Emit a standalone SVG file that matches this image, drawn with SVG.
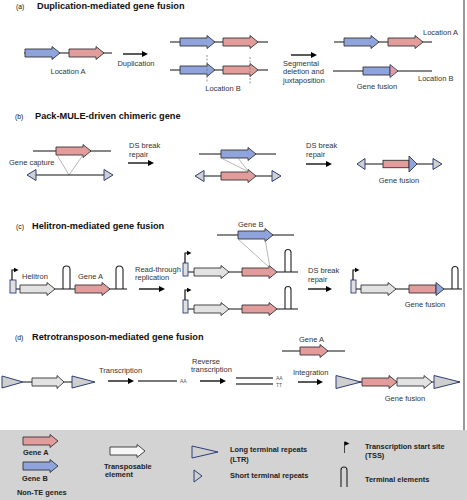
<svg xmlns="http://www.w3.org/2000/svg" xmlns:xlink="http://www.w3.org/1999/xlink" width="467" height="500" viewBox="0 0 467 500">
<style>
.ln{stroke:#111;stroke-width:1.2;fill:none}
.gA{fill:#e39c9c;stroke:#333;stroke-width:0.9}
.gB{fill:#8fa3dc;stroke:#333;stroke-width:0.9}
.te{fill:#e2e2e2;stroke:#333;stroke-width:0.9}
.tw{fill:#f7f7f7;stroke:#333;stroke-width:0.9}
.tri{fill:#cfcfcf;stroke:#2c3e78;stroke-width:1}
.box{fill:#e0e0e0;stroke:#2c3e78;stroke-width:0.9}
.hp{fill:none;stroke:#222;stroke-width:1.1}
.thin{stroke:#888;stroke-width:0.6;fill:none}
.dash{stroke:#777;stroke-width:0.8;stroke-dasharray:2 1.5}
.pa{stroke:#000;stroke-width:1.3;marker-end:url(#ah)}
.rna{stroke:#777;stroke-width:2.2}
text{font-family:"Liberation Sans",Arial,sans-serif;font-size:7.5px;fill:#333}
.ttl{font-weight:bold;font-size:9.2px;fill:#111}
.lb{font-size:6.8px;fill:#111}
.sm{font-size:5px;fill:#555}
.lg{font-weight:bold;font-size:7.4px;fill:#222}
.mid{text-anchor:middle}
</style>
<defs>
<marker id="ah" markerWidth="6" markerHeight="6" refX="1" refY="3" orient="auto" markerUnits="userSpaceOnUse"><path d="M0,0 L6,3 L0,6Z" fill="#000"/></marker>
<path id="arr" d="M0,-4 H27 V-6.5 L35,0 L27,6.5 V4 H0 Z"/>
<path id="body" d="M0,-4 H27 V4 H0 Z"/>
<path id="head" d="M27,-6.5 L35,0 L27,6.5 Z"/>
</defs>

<line x1="464" y1="0" x2="464" y2="430" stroke="#555" stroke-width="1.2"/>

<!-- (a) -->
<g id="titleA"><text class="lb" x="16" y="8.5">(a)</text><text class="ttl" x="37" y="8.5">Duplication-mediated gene fusion</text></g>
<g id="a-locA">
<line class="ln" x1="24" y1="53" x2="112" y2="53"/>
<use href="#arr" class="gB" x="25" y="53"/>
<use href="#arr" class="gA" x="69" y="53"/>
<text class="mid" x="68" y="74">Location A</text>
</g>
<g id="a-dup">
<line class="ln" x1="170" y1="42" x2="268" y2="42"/>
<use href="#arr" class="gB" x="180" y="42"/>
<use href="#arr" class="gA" x="223" y="42"/>
<line class="ln" x1="170" y1="70" x2="268" y2="70"/>
<use href="#arr" class="gB" x="180" y="70"/>
<use href="#arr" class="gA" x="223" y="70"/>
<line class="dash" x1="207" y1="55" x2="207" y2="83"/>
<line class="dash" x1="250" y1="57" x2="250" y2="84"/>
<text class="mid" x="223" y="91">Location B</text>
</g>
<g id="a-result">
<line class="ln" x1="334" y1="42" x2="432" y2="42"/>
<use href="#arr" class="gB" x="344" y="42"/>
<use href="#arr" class="gA" x="388" y="42"/>
<text x="423" y="35">Location A</text>
<line class="ln" x1="333" y1="71" x2="432" y2="71"/>
<use href="#body" class="gB" x="363" y="71"/>
<use href="#head" class="gA" x="363" y="71" style="stroke:#2c3e78"/>
<text x="418" y="81">Location B</text>
<text class="mid" x="377" y="89">Gene fusion</text>
</g>

<!-- (b) -->
<g id="titleB"><text class="lb" x="15" y="118.5">(b)</text><text class="ttl" x="35" y="118.5">Pack-MULE-driven chimeric gene</text></g>
<g id="b-capture">
<line class="ln" x1="33" y1="151" x2="111" y2="151"/>
<use href="#arr" class="gA" x="56" y="151"/>
<line class="thin" x1="57" y1="155" x2="69" y2="175"/>
<line class="thin" x1="83" y1="155" x2="69" y2="175"/>
<line class="ln" x1="36" y1="175" x2="104" y2="175"/>
<polygon class="tri" points="36,169.5 36,180.5 27,175"/>
<polygon class="tri" points="104,169.5 104,180.5 113,175"/>
<text x="9" y="165">Gene capture</text>
</g>
<g id="b-mid">
<line class="ln" x1="199" y1="154" x2="276" y2="154"/>
<use href="#arr" class="gB" x="221" y="154"/>
<line class="ln" x1="204" y1="176" x2="272" y2="176"/>
<polygon class="tri" points="204,170.5 204,181.5 195,176"/>
<use href="#arr" class="gA" x="221" y="176"/>
<polygon class="tri" points="272,170.5 272,181.5 281,176"/>
<line class="thin" x1="221" y1="158" x2="249" y2="172"/>
<line class="thin" x1="238" y1="158" x2="249" y2="172"/>
</g>
<g id="b-result">
<line class="ln" x1="365" y1="164" x2="433" y2="164"/>
<polygon class="tri" points="365,158.5 365,169.5 357,164"/>
<rect class="gA" x="383" y="160.3" width="26" height="7.4"/>
<polygon class="gB" points="409,156 417,164 409,172"/>
<polygon class="tri" points="433,158.5 433,169.5 442,164"/>
<text class="mid" x="399" y="183">Gene fusion</text>
</g>

<!-- (c) -->
<g id="titleC"><text class="lb" x="16" y="229.3">(c)</text><text class="ttl" x="32" y="229.3">Helitron-mediated gene fusion</text></g>
<g id="c-left">
<line class="ln" x1="16" y1="289" x2="127" y2="289"/>
<rect class="box" x="10" y="280" width="6" height="13"/>
<path class="ln" d="M12,280 V270 H14" stroke-width="0.9"/>
<polygon points="14,267.8 18.5,270 14,272.2" fill="#000"/>
<use href="#arr" class="te" x="20" y="289"/>
<path class="hp" d="M63,289 V269.5 A3.5,3.5 0 0 1 70,269.5 V289"/>
<use href="#arr" class="gA" x="75" y="289"/>
<path class="hp" d="M116,289 V269.5 A3.5,3.5 0 0 1 123,269.5 V289"/>
<text x="22" y="279">Helitron</text>
<text x="78" y="279">Gene A</text>
</g>
<g id="c-mid">
<line class="ln" x1="217" y1="235" x2="294" y2="235"/>
<use href="#arr" class="gB" x="238" y="235"/>
<text x="238" y="227">Gene B</text>
<line class="ln" x1="188" y1="272" x2="298" y2="272"/>
<rect class="box" x="183" y="263" width="5" height="13"/>
<path class="ln" d="M185,263 V253 H187" stroke-width="0.9"/>
<polygon points="187,250.8 191.5,253 187,255.2" fill="#000"/>
<use href="#arr" class="te" x="194" y="272"/>
<use href="#arr" class="gA" x="242" y="272"/>
<path class="hp" d="M285,272 V252.5 A3,3 0 0 1 291,252.5 V272"/>
<line class="thin" x1="238" y1="239" x2="270" y2="268"/>
<line class="thin" x1="265" y1="239" x2="270" y2="268"/>
<line class="ln" x1="188" y1="309" x2="298" y2="309"/>
<rect class="box" x="183" y="300" width="5" height="13"/>
<path class="ln" d="M185,300 V290 H187" stroke-width="0.9"/>
<polygon points="187,287.8 191.5,290 187,292.2" fill="#000"/>
<use href="#arr" class="te" x="194" y="309"/>
<use href="#arr" class="gA" x="242" y="309"/>
<path class="hp" d="M285,309 V289.5 A3,3 0 0 1 291,289.5 V309"/>
</g>
<g id="c-result">
<line class="ln" x1="356" y1="289" x2="462" y2="289"/>
<rect class="box" x="351" y="280" width="5" height="13"/>
<path class="ln" d="M353,280 V270 H355" stroke-width="0.9"/>
<polygon points="355,267.8 359.5,270 355,272.2" fill="#000"/>
<use href="#arr" class="te" x="361" y="289"/>
<use href="#body" class="gA" x="409" y="289"/>
<use href="#head" class="gB" x="409" y="289"/>
<path class="hp" d="M452,289 V269.5 A3,3 0 0 1 458,269.5 V289"/>
<text class="mid" x="425" y="307">Gene fusion</text>
</g>

<!-- (d) -->
<g id="titleD"><text class="lb" x="15" y="340">(d)</text><text class="ttl" x="32" y="340">Retrotransposon-mediated gene fusion</text></g>
<g id="d-left">
<line class="ln" x1="23" y1="382" x2="72" y2="382"/>
<polygon class="tri" points="2,376 2,388 23,382"/>
<path class="te" d="M32,378 H57 V375.5 L64,382 L57,388.5 V386 H32 Z"/>
<polygon class="tri" points="72,376 72,388 95,382"/>
</g>
<g id="d-rna">
<line class="rna" x1="138" y1="381" x2="177" y2="381"/>
<text class="sm" x="180" y="383">AA</text>
</g>
<g id="d-cdna">
<line class="rna" x1="236" y1="378" x2="273" y2="378"/>
<line class="rna" x1="236" y1="384" x2="273" y2="384"/>
<text class="sm" x="276" y="380">AA</text>
<text class="sm" x="276" y="387">TT</text>
</g>
<g id="d-geneA">
<line class="ln" x1="282" y1="351" x2="345" y2="351"/>
<path class="gA" d="M300,347 H320 V344.5 L328,351 L320,357.5 V355 H300 Z"/>
<text x="299" y="342">Gene A</text>
</g>
<g id="d-result">
<line class="ln" x1="336" y1="382" x2="460" y2="382"/>
<polygon class="tri" points="336,375.5 336,388.5 361,382"/>
<use href="#arr" class="gA" x="362" y="382"/>
<use href="#arr" class="te" x="397" y="382"/>
<polygon class="tri" points="434,375.5 434,388.5 460,382"/>
<text class="mid" x="405" y="401">Gene fusion</text>
</g>

<!-- process arrows -->
<g id="connectors">
<line class="pa" x1="123" y1="54" x2="143" y2="54"/>
<line class="pa" x1="291" y1="55" x2="312" y2="55"/>
<line class="pa" x1="128" y1="163" x2="149" y2="163"/>
<line class="pa" x1="306" y1="164" x2="327" y2="164"/>
<line class="pa" x1="139" y1="289" x2="160" y2="289"/>
<line class="pa" x1="308" y1="289" x2="327" y2="289"/>
<line class="pa" x1="108" y1="381" x2="129" y2="381"/>
<line class="pa" x1="200" y1="381" x2="221" y2="381"/>
<line class="pa" x1="298" y1="382" x2="318" y2="382"/>
</g>
<g id="labels">
<text class="mid" x="136" y="66">Duplication</text>
<text x="283" y="65.5">Segmental</text>
<text x="283" y="74">deletion and</text>
<text x="283" y="83">juxtaposition</text>
<text x="129" y="148">DS break</text>
<text x="129" y="157">repair</text>
<text x="306" y="148">DS break</text>
<text x="306" y="157">repair</text>
<text x="135" y="272">Read-through</text>
<text x="135" y="280">replication</text>
<text x="308" y="273">DS break</text>
<text x="308" y="282">repair</text>
<text x="99" y="373">Transcription</text>
<text x="192" y="364">Reverse</text>
<text x="191" y="372">transcription</text>
<text x="293" y="375">Integration</text>
</g>

<!-- legend -->
<g id="legend">
<rect x="0" y="430" width="467" height="70" fill="#d3d3d3"/>
<use href="#arr" class="gA" x="23" y="441"/>
<text class="lg" x="23" y="455">Gene A</text>
<use href="#arr" class="gB" x="23" y="466"/>
<text class="lg" x="22" y="481">Gene B</text>
<text class="lg" x="17" y="495">Non-TE genes</text>
<use href="#arr" class="tw" x="110" y="451"/>
<text class="lg" x="104" y="469">Transposable</text>
<text class="lg" x="105" y="477">element</text>
<polygon class="tri" points="192,446 192,458 218,452"/>
<polygon class="tri" points="194,470 194,482 202,476"/>
<text class="lg" x="230" y="452">Long terminal repeats</text>
<text class="lg" x="230" y="462">(LTR)</text>
<text class="lg" x="230" y="478">Short terminal repeats</text>
<line x1="344.5" y1="453" x2="344.5" y2="442" stroke="#333" stroke-width="0.9"/>
<polygon points="344.5,441.3 349.5,443.5 344.5,445.7" fill="#000"/>
<text class="lg" x="365" y="449">Transcription start site</text>
<text class="lg" x="365" y="458">(TSS)</text>
<path class="hp" d="M341,487 V470 A3,3 0 0 1 347,470 V487"/>
<text class="lg" x="365" y="482">Terminal elements</text>
</g>
</svg>
